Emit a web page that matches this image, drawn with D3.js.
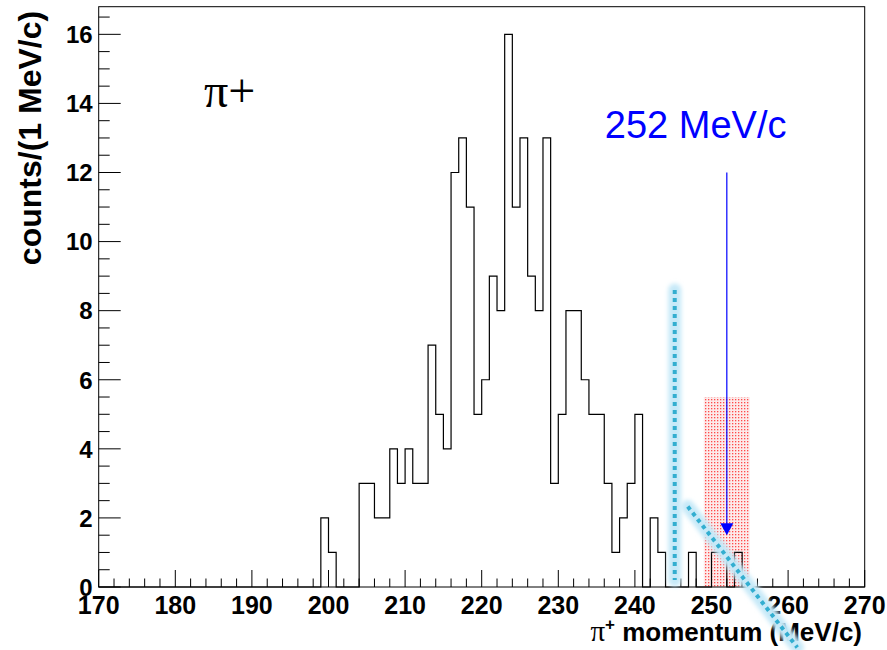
<!DOCTYPE html>
<html>
<head>
<meta charset="utf-8">
<script src="https://cdn.jsdelivr.net/npm/d3@7"></script>
<style>
body { margin: 0; background: #fff; }
text { font-family: "Liberation Sans", Arial, Helvetica, sans-serif; }
.frame { fill: none; stroke: #000; stroke-width: 1; }
.hist { fill: none; stroke: #000; stroke-width: 1.2; }
.tick line { stroke: #000; stroke-width: 1; }
</style>
</head>
<body>
<svg id="chart" width="887" height="650"></svg>
<script>
// histogram: 1 MeV/c bins from 170 to 270
var binStart = 170,
    binWidth = 1;

var counts = [
  0, 0, 0, 0, 0, 0, 0, 0, 0, 0,      // 170
  0, 0, 0, 0, 0, 0, 0, 0, 0, 0,      // 180
  0, 0, 0, 0, 0, 0, 0, 0, 0, 2,      // 190
  1, 0, 0, 0, 3, 3, 2, 2, 4, 3,      // 200
  4, 3, 3, 7, 5, 4, 12, 13, 11, 5,   // 210
  6, 9, 8, 16, 11, 13, 9, 8, 13, 3,  // 220
  5, 8, 8, 6, 5, 5, 3, 1, 2, 3,      // 230
  5, 0, 2, 1, 0, 0, 0, 1, 0, 0,      // 240
  1, 1, 0, 1, 0, 0, 0, 0, 0, 0,      // 250
  0, 0, 0, 0, 0, 0, 0, 0, 0, 0       // 260
];

var xTicks = [170, 180, 190, 200, 210, 220, 230, 240, 250, 260, 270];
var yTicks = [0, 2, 4, 6, 8, 10, 12, 14, 16];

// signal window and expected momentum
var signalBox = [249, 255, 5.5];     // x0, x1, height
var signalArrow = [252, 12, 1.5];    // x, from, to
var signalLabel = "252 MeV/c";

// cyan guide lines drawn over the plot (data units)
var guideVertical = [[245.2, 8.6], [245.2, 0.2]];
var guideDiagonal = [[246.9, 2.33], [261.2, -1.75]];

var svg = d3.select("#chart"),
    width = +svg.attr("width"),
    height = +svg.attr("height");

var margin = {top: 6.7, right: 22.3, bottom: 63, left: 98.7};

var x = d3.scaleLinear()
    .domain([170, 270])
    .range([margin.left, width - margin.right]);

var y = d3.scaleLinear()
    .domain([0, 16.8])
    .range([height - margin.bottom, margin.top]);

var defs = svg.append("defs");

var pat = defs.append("pattern")
    .attr("id", "dots")
    .attr("patternUnits", "userSpaceOnUse")
    .attr("width", 3)
    .attr("height", 3);
pat.append("rect")
    .attr("width", 3).attr("height", 3)
    .attr("fill", "#fdeaea");
pat.append("rect")
    .attr("width", 1.3).attr("height", 1.3)
    .attr("fill", "#ff4a4a");

// blur region in page units so the vertical guide (zero-width bbox) is not clipped
defs.append("filter")
    .attr("id", "glow")
    .attr("filterUnits", "userSpaceOnUse")
    .attr("x", 0).attr("y", 0)
    .attr("width", width).attr("height", height)
  .append("feGaussianBlur")
    .attr("stdDeviation", 2);

// signal box
svg.append("rect")
    .attr("x", x(signalBox[0]))
    .attr("y", y(signalBox[2]))
    .attr("width", x(signalBox[1]) - x(signalBox[0]))
    .attr("height", y(0) - y(signalBox[2]))
    .attr("fill", "url(#dots)");

// ticks (major every 10 MeV / 2 counts, minor every 2 MeV / 0.5 count)
var xMinor = d3.range(170, 270.1, 2),
    yMinor = d3.range(0, 16.8, 0.5);

var xAxis = svg.append("g").attr("class", "tick");
xAxis.selectAll("line")
  .data(xMinor)
  .enter().append("line")
    .attr("x1", function(d) { return x(d); })
    .attr("x2", function(d) { return x(d); })
    .attr("y1", y(0))
    .attr("y2", function(d) { return y(0) - (d % 10 === 0 ? 17 : 8.5); });

var yAxis = svg.append("g").attr("class", "tick");
yAxis.selectAll("line")
  .data(yMinor)
  .enter().append("line")
    .attr("x1", x(170))
    .attr("x2", function(d) { return x(170) + (d % 2 === 0 ? 22 : 11); })
    .attr("y1", function(d) { return y(d); })
    .attr("y2", function(d) { return y(d); });

// tick labels
svg.selectAll(".xlab")
  .data(xTicks)
  .enter().append("text")
    .attr("x", function(d) { return x(d); })
    .attr("y", y(0) + 27)
    .attr("text-anchor", "middle")
    .attr("font-size", 25)
    .attr("font-weight", "bold")
    .text(function(d) { return d; });

svg.selectAll(".ylab")
  .data(yTicks)
  .enter().append("text")
    .attr("x", x(170) - 6)
    .attr("y", function(d) { return y(d) + 8.8; })
    .attr("text-anchor", "end")
    .attr("font-size", 24)
    .attr("font-weight", "bold")
    .text(function(d) { return d; });

// histogram outline
var pts = counts.map(function(c, i) { return [binStart + i * binWidth, c]; });
pts.push([binStart + counts.length * binWidth, counts[counts.length - 1]]);

var step = d3.line()
    .x(function(d) { return x(d[0]); })
    .y(function(d) { return y(d[1]); })
    .curve(d3.curveStepAfter);

svg.append("path")
    .attr("class", "hist")
    .attr("d", step(pts));

// frame
svg.append("rect")
    .attr("class", "frame")
    .attr("x", x(170))
    .attr("y", y(16.8))
    .attr("width", x(270) - x(170))
    .attr("height", y(0) - y(16.8));

// arrow to 252 MeV/c
svg.append("line")
    .attr("x1", x(signalArrow[0]))
    .attr("x2", x(signalArrow[0]))
    .attr("y1", y(signalArrow[1]))
    .attr("y2", y(signalArrow[2]) - 8)
    .attr("stroke", "#0000ff")
    .attr("stroke-width", 1.2);

var ax = x(signalArrow[0]), ay = y(signalArrow[2]);
svg.append("path")
    .attr("d", "M" + ax + "," + ay + "L" + (ax - 6.5) + "," + (ay - 12) + "L" + (ax + 6.5) + "," + (ay - 12) + "Z")
    .attr("fill", "#0000ff");

svg.append("text")
    .attr("x", x(signalArrow[0]) - 122)
    .attr("y", 138)
    .attr("font-size", 38)
    .attr("fill", "#0000ff")
    .text(signalLabel);

// pi+ label
svg.append("text")
    .attr("x", 204)
    .attr("y", 107)
    .attr("font-size", 48)
    .style("font-family", "'Liberation Serif', 'Times New Roman', serif")
    .text("π+");

// axis titles
svg.append("text")
    .attr("transform", "translate(41," + 138 + ")rotate(-90)")
    .attr("text-anchor", "middle")
    .attr("font-size", 32)
    .attr("font-weight", "bold")
    .text("counts/(1 MeV/c)");

var xt = svg.append("text")
    .attr("x", 862)
    .attr("y", 641)
    .attr("text-anchor", "end")
    .attr("font-size", 26)
    .attr("font-weight", "bold");
xt.append("tspan")
    .style("font-family", "'Liberation Serif', 'Times New Roman', serif")
    .attr("font-weight", "normal")
    .attr("font-size", 29)
    .text("π");
xt.append("tspan")
    .attr("dy", -11)
    .attr("font-size", 17)
    .text("+");
xt.append("tspan")
    .attr("dy", 11)
    .text(" momentum (MeV/c)");

// cyan guides
var guide = d3.line()
    .x(function(d) { return x(d[0]); })
    .y(function(d) { return y(d[1]); });

[guideVertical, guideDiagonal].forEach(function(g) {
  svg.append("path")
      .attr("d", guide(g))
      .attr("fill", "none")
      .attr("stroke", "#c6e9f8")
      .attr("stroke-width", 13)
      .attr("stroke-linecap", "round")
      .attr("filter", "url(#glow)");
  svg.append("path")
      .attr("d", guide(g))
      .attr("fill", "none")
      .attr("stroke", "#33aed0")
      .attr("stroke-width", 4)
      .attr("stroke-dasharray", "4,4");
});
</script>
</body>
</html>
